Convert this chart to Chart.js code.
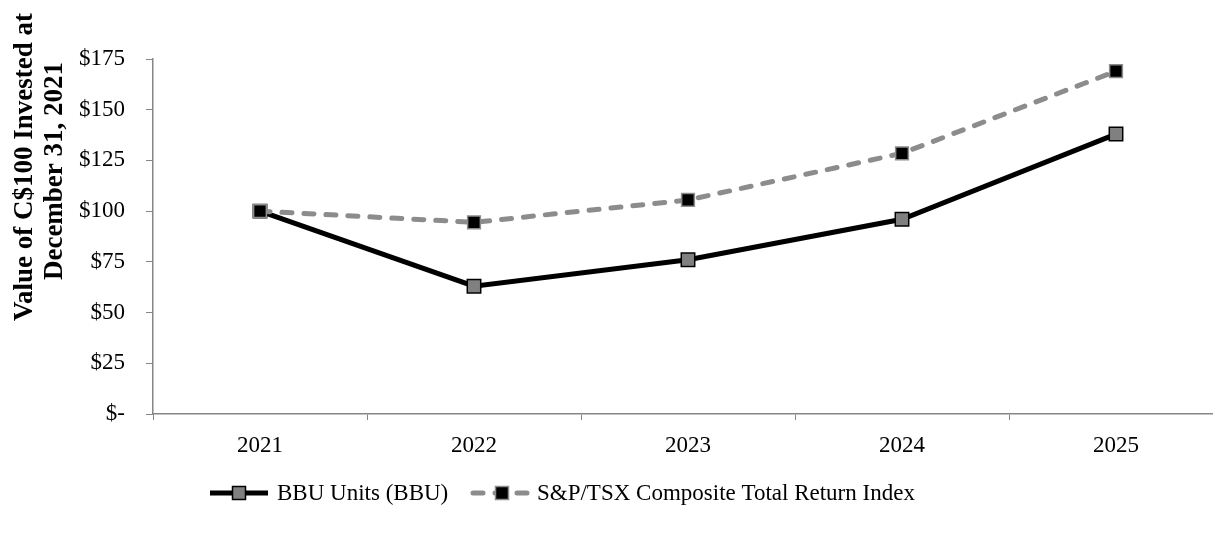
<!DOCTYPE html>
<html>
<head>
<meta charset="utf-8">
<script src="https://cdn.jsdelivr.net/npm/chart.js@4/dist/chart.umd.min.js"></script>
<style>
  html, body { margin: 0; padding: 0; background: #fff; overflow: hidden; }
  /* wider than the window: the original's last category runs past the right edge */
  #wrap { width: 1240px; height: 536px; }
</style>
</head>
<body>
<div id="wrap"><canvas id="myChart"></canvas></div>
<script>
const years = ['2021', '2022', '2023', '2024', '2025'];
const bbuValues = [100, 63, 76, 96, 138];
const tsxValues = [100, 94.5, 105.5, 128.5, 169];
const yTicks = [0, 25, 50, 75, 100, 125, 150, 175];
const yTitle = ['Value of C$100 Invested at', 'December 31, 2021'];

const serif = '"Liberation Serif", "Times New Roman", serif';

// y title and legend drawn by hand to match the original placement
const extras = {
    id: 'extras',
    afterDraw(chart) {
        const ctx = chart.ctx;
        ctx.save();

        // rotated axis title
        ctx.fillStyle = '#000';
        ctx.font = 'bold 27px ' + serif;
        ctx.textAlign = 'center';
        ctx.textBaseline = 'alphabetic';
        ctx.translate(0, 167);
        ctx.rotate(-Math.PI / 2);
        ctx.fillText(yTitle[0], 0, 32);
        ctx.fillText(yTitle[1], -4, 62);
        ctx.setTransform(1, 0, 0, 1, 0, 0);

        // legend
        const items = [
            { ds: chart.data.datasets[0], x: 210, len: 58, textX: 277 },
            { ds: chart.data.datasets[1], x: 473, len: 54, textX: 537 }
        ];
        const y = 493;
        items.forEach(function (it) {
            const ds = it.ds;
            ctx.beginPath();
            ctx.setLineDash(ds.borderDash || []);
            ctx.lineCap = ds.borderCapStyle || 'butt';
            ctx.lineWidth = ds.borderWidth;
            ctx.strokeStyle = ds.borderColor;
            ctx.moveTo(it.x, y);
            ctx.lineTo(it.x + it.len, y);
            ctx.stroke();
            ctx.setLineDash([]);
            const s = 13;
            const cx = it.x + 29;
            ctx.fillStyle = ds.pointBackgroundColor;
            ctx.fillRect(cx - s / 2, y - s / 2, s, s);
            ctx.lineWidth = 1.5;
            ctx.strokeStyle = ds.pointBorderColor;
            ctx.strokeRect(cx - s / 2, y - s / 2, s, s);
            ctx.fillStyle = '#000';
            ctx.font = '23px ' + serif;
            ctx.textAlign = 'left';
            ctx.textBaseline = 'middle';
            ctx.fillText(ds.label, it.textX, y + 1);
        });
        ctx.restore();
    }
};

const data = {
    labels: years,
    datasets: [{
        label: 'BBU Units (BBU)',
        data: bbuValues,
        borderColor: '#000000',
        borderWidth: 5,
        pointStyle: 'rect',
        pointRadius: 9.5,
        pointHoverRadius: 9.5,
        pointBackgroundColor: '#808080',
        pointBorderColor: '#000000',
        pointBorderWidth: 1.5,
        tension: 0,
        order: 2
    }, {
        label: 'S&P/TSX Composite Total Return Index',
        data: tsxValues,
        borderColor: '#8c8c8c',
        borderWidth: 5,
        borderDash: [10, 12],
        borderCapStyle: 'round',
        pointStyle: 'rect',
        pointRadius: 9,
        pointHoverRadius: 9,
        pointBackgroundColor: '#000000',
        pointBorderColor: '#8c8c8c',
        pointBorderWidth: 1.5,
        tension: 0,
        order: 1
    }]
};

const config = {
    type: 'line',
    data: data,
    plugins: [extras],
    options: {
        responsive: true,
        maintainAspectRatio: false,
        animation: false,
        layout: {
            padding: { top: 59, right: 17, bottom: 72, left: 0 }
        },
        plugins: {
            legend: { display: false },
            tooltip: { enabled: false }
        },
        scales: {
            x: {
                offset: true,
                afterFit(scale) { scale.height = 50; },
                grid: {
                    offset: true,
                    drawOnChartArea: false,
                    drawTicks: true,
                    tickLength: 6,
                    color: '#868686'
                },
                border: { color: '#868686', width: 1.5 },
                ticks: {
                    color: '#000',
                    padding: 12,
                    font: { family: serif, size: 23 }
                }
            },
            y: {
                min: 0,
                max: 175,
                afterBuildTicks(axis) {
                    axis.ticks = yTicks.map(function (v) { return { value: v }; });
                },
                afterFit(scale) { scale.width = 153; },
                grid: {
                    drawOnChartArea: false,
                    drawTicks: true,
                    tickLength: 7,
                    color: '#868686'
                },
                border: { color: '#868686', width: 1.5 },
                ticks: {
                    color: '#000',
                    padding: 21,
                    font: { family: serif, size: 23 },
                    callback: function (v) { return v === 0 ? '$-' : '$' + v; }
                }
            }
        }
    }
};

new Chart(document.getElementById('myChart'), config);
</script>
</body>
</html>
